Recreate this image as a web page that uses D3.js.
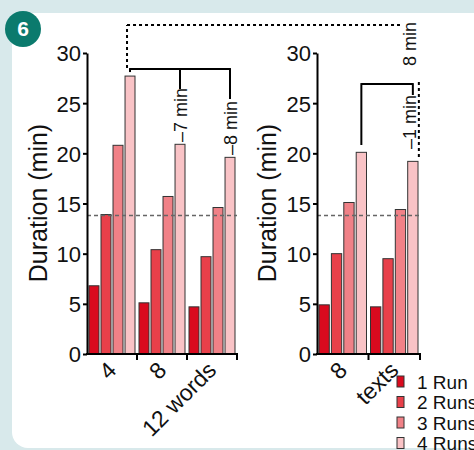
<!DOCTYPE html>
<html>
<head>
<meta charset="utf-8">
<script src="https://cdn.jsdelivr.net/npm/d3@7"></script>
<style>
  body { margin: 0; background: #d8e9eb; }
  text { font-family: Arial, "Liberation Sans", Helvetica, sans-serif; fill: #111; }
</style>
</head>
<body>
<div id="container"></div>
<script>
// data
let runs = ["1 Run", "2 Runs", "3 Runs", "4 Runs"];
let runColors = ["#da0a1e", "#e8404a", "#f08187", "#f9c3c6"];
let wordGroups = ["4", "8", "12 words"];
let wordValues = [
  [6.8, 13.9, 20.8, 27.7],
  [5.1, 10.4, 15.7, 20.9],
  [4.7, 9.7, 14.6, 19.6]
];
let textGroups = ["8", "texts"];
let textValues = [
  [4.9, 10.0, 15.1, 20.1],
  [4.7, 9.5, 14.4, 19.2]
];
let yTicks = [0, 5, 10, 15, 20, 25, 30];
let baseline = 13.8;

let w = 474;
let h = 450;
let viz = d3.select("#container")
  .append("svg")
    .attr("width", w)
    .attr("height", h)
;

// panel background
viz.append("rect").attr("width", w).attr("height", h).attr("fill", "#d8e9eb");
viz.append("rect")
  .attr("x", 12).attr("y", 13)
  .attr("width", 490).attr("height", 435)
  .attr("rx", 16)
  .attr("fill", "white");

// badge
viz.append("circle").attr("cx", 23).attr("cy", 29).attr("r", 18).attr("fill", "#0b7a6d");
viz.append("text")
  .attr("x", 23).attr("y", 36)
  .attr("text-anchor", "middle")
  .style("font-size", "21px")
  .style("font-weight", "bold")
  .style("fill", "white")
  .text("6");

let yScale = d3.scaleLinear().domain([0, 30]).range([354, 53]);

function drawPanel(groups, values, x0, x1, labelX) {
  let g = viz.append("g");
  let xScale = d3.scaleBand().domain(groups).range([x0, x1]);
  let inner = d3.scaleBand().domain(runs).range([2, xScale.bandwidth() - 2]).paddingInner(0.17);

  // y label
  g.append("text")
    .attr("transform", "translate(" + labelX + ",203) rotate(-90)")
    .attr("text-anchor", "middle")
    .style("font-size", "25px")
    .text("Duration (min)");

  // bars
  groups.forEach(function(grp, i){
    g.selectAll(".bar" + i)
      .data(values[i])
      .enter()
      .append("rect")
        .attr("x", (d, j) => xScale(grp) + inner(runs[j]))
        .attr("y", d => yScale(d))
        .attr("width", inner.bandwidth())
        .attr("height", d => yScale(0) - yScale(d))
        .attr("fill", (d, j) => runColors[j])
        .attr("stroke", "#333")
        .attr("stroke-width", 1);
  });

  // baseline dashed
  g.append("line")
    .attr("x1", x0).attr("x2", x1)
    .attr("y1", yScale(baseline)).attr("y2", yScale(baseline))
    .attr("stroke", "#666")
    .attr("stroke-width", 1.5)
    .attr("stroke-dasharray", "4,3");

  // y axis
  let yAxis = d3.axisLeft(yScale).tickValues(yTicks).tickSize(4).tickSizeOuter(0).tickPadding(2);
  let yAxisGroup = g.append("g")
    .attr("transform", "translate(" + x0 + ",0)")
    .call(yAxis);
  yAxisGroup.selectAll("text").style("font-size", "22px").attr("dy", "0.36em");
  yAxisGroup.selectAll("line").attr("stroke-width", 2);
  yAxisGroup.select(".domain").attr("stroke-width", 2);

  // x axis
  g.append("line")
    .attr("x1", x0 - 1).attr("x2", x1 + 1)
    .attr("y1", yScale(0)).attr("y2", yScale(0))
    .attr("stroke", "black").attr("stroke-width", 2);
  groups.forEach(function(grp){
    let xe = xScale(grp) + xScale.bandwidth();
    g.append("line")
      .attr("x1", xe).attr("x2", xe)
      .attr("y1", yScale(0)).attr("y2", yScale(0) + 6)
      .attr("stroke", "black").attr("stroke-width", 2);
    let cx = xScale(grp) + xScale.bandwidth() / 2;
    g.append("text")
      .attr("transform", "translate(" + cx + "," + (yScale(0) + 12) + ") rotate(-45)")
      .attr("text-anchor", "end")
      .attr("dy", "0.35em")
      .style("font-size", "23px")
      .text(grp);
  });

  return {xScale: xScale, inner: inner};
}

let left = drawPanel(wordGroups, wordValues, 87, 237, 47);
let right = drawPanel(textGroups, textValues, 317, 420, 276);

function barCenter(p, grp, j) {
  return p.xScale(grp) + p.inner(runs[j]) + p.inner.bandwidth() / 2;
}

let ann = viz.append("g");
function seg(x1, y1, x2, y2, dashed) {
  ann.append("line")
    .attr("x1", x1).attr("y1", y1).attr("x2", x2).attr("y2", y2)
    .attr("stroke", "black")
    .attr("stroke-width", 2)
    .attr("stroke-dasharray", dashed ? "3,3" : null);
}
function vText(x, yBottom, str) {
  ann.append("text")
    .attr("transform", "translate(" + (x + 6.5) + "," + yBottom + ") rotate(-90)")
    .style("font-size", "18px")
    .text(str);
}

// left solid bracket
let lA = barCenter(left, "4", 3);
let lB = barCenter(left, "8", 3);
let lC = barCenter(left, "12 words", 3);
let yBr = yScale(28.4);
seg(lA, yBr, lC, yBr);
seg(lA, yBr - 1, lA, yBr + 3);
seg(lB, yBr - 1, lB, 89);
seg(lC, yBr - 1, lC, 99);
vText(lB, 142, "\u20137 min");
vText(lC, 155, "\u20138 min");

// right solid bracket
let rA = barCenter(right, "8", 3);
let rB = barCenter(right, "texts", 3);
let yBr2 = yScale(26.9);
seg(rA, yBr2 - 1, rA, 145);
seg(rA, yBr2, rB, yBr2);
seg(rB, yBr2 - 1, rB, 95);
vText(rB - 3, 149, "\u20131 min");

// dashed bracket between panels
let yTop = 25;
seg(lA - 3, 68, lA - 3, yTop, true);
seg(lA - 3, yTop, 400, yTop, true);
vText(rB - 3, 66, "8 min");
seg(rB + 6, 82, rB + 6, yScale(19.4), true);

// legend (cut at the right edge, as in the source figure)
let legend = viz.append("g").attr("transform", "translate(397,382)");
runs.forEach(function(r, i){
  legend.append("rect")
    .attr("x", 0).attr("y", i * 20.5 - 6)
    .attr("width", 7).attr("height", 11)
    .attr("fill", runColors[i])
    .attr("stroke", "#333").attr("stroke-width", 1);
  legend.append("text")
    .attr("x", 20).attr("y", i * 20.5)
    .attr("dy", "0.35em")
    .style("font-size", "19px")
    .text(r);
});
</script>
</body>
</html>
